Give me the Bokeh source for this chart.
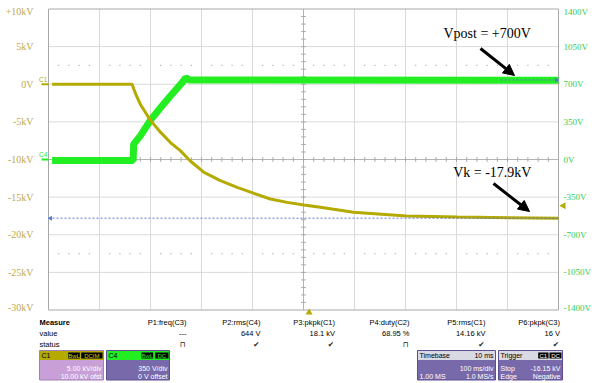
import math
from bokeh.plotting import figure
from bokeh.models import Range1d, ColumnDataSource, Label, Arrow, NormalHead
from bokeh.layouts import column
from bokeh.embed import file_html
from bokeh.resources import INLINE
from bokeh.core.properties import value

# ---------------- data ----------------
# C1 (kV) vs time (ms, 100 ms/div, 10 divisions)
c1_time_ms = [7, 164, 167, 171, 180, 200, 220, 239, 259, 278, 305, 337, 370,
              403, 435, 468, 501, 533, 598, 702, 802, 1000]
c1_kv = [0.0, 0.0, -0.6, -1.3, -2.65, -4.8, -6.4, -7.75, -8.85, -10.2, -11.7,
         -12.8, -13.7, -14.5, -15.25, -15.7, -16.05, -16.35, -17.0, -17.5,
         -17.65, -17.8]
# C4 (V) vs time (ms)
c4_time_ms = [7, 166, 167, 180, 200, 220, 239, 262, 269, 276, 1000]
c4_volts = [-10, -10, 143, 220, 366, 483, 591, 715, 761, 740, 738]

left_tick_kv = [10, 5, 0, -5, -10, -15, -20, -25, -30]
left_tick_labels = ["+10kV", "5kV", "0V", "-5kV", "-10kV", "-15kV", "-20kV", "-25kV", "-30kV"]
right_tick_v = [1400, 1050, 700, 350, 0, -350, -700, -1050, -1400]
right_tick_labels = ["1400V", "1050V", "700V", "350V", "0V", "-350V", "-700V", "-1050V", "-1400V"]

cursor_kv = -17.8
cursor_volts = 740
trigger_level_kv = -16.15
trigger_time_ms = 511

measure_names = ["P1:freq(C3)", "P2:rms(C4)", "P3:pkpk(C1)", "P4:duty(C2)", "P5:rms(C1)", "P6:pkpk(C3)"]
measure_values = ["---", "644 V", "18.1 kV", "68.95 %", "14.16 kV", "16 V"]
measure_status = ["\u2293", "\u2714", "\u2714", "\u2293", "\u2714", "\u2714"]

# ---------------- layout ----------------
W, H_TOP, H_BOT = 592, 316, 67
OX, OY = 0, 0
SX0, SX1 = 48, 558
SY_TOP, SY_BOT = 8.5, 309.5
T0, T1 = 0, 1000
KV_TOP, KV_BOT = 10, -30
px_ms = (SX1 - SX0) / (T1 - T0)
px_kv = (SY_BOT - SY_TOP) / (KV_TOP - KV_BOT)
x_start = T0 - (SX0 - OX) / px_ms
x_end = T0 + (OX + W - SX0) / px_ms
y_end = KV_TOP + (SY_TOP - OY) / px_kv
y_start = KV_TOP - (OY + H_TOP - SY_TOP) / px_kv
V_ZERO_KV, V_PER_KV = -10, 70


def kv_to_v(k):
    return (k - V_ZERO_KV) * V_PER_KV


def sx(px):
    return T0 + (px - SX0) / px_ms


def sy(py):
    return KV_TOP - (py - SY_TOP) / px_kv


YEL = "#b4aa00"
GRN = "#22ee22"
SERIF = value("Liberation Serif")
SANS = value("Liberation Sans")

p = figure(width=W, height=H_TOP, x_range=Range1d(x_start, x_end),
           y_range=Range1d(y_start, y_end), output_backend="svg",
           toolbar_location=None, min_border=0, x_axis_location=None,
           y_axis_location=None)
p.extra_y_ranges = {"volts": Range1d(kv_to_v(y_start), kv_to_v(y_end))}
p.grid.visible = False
p.outline_line_color = None

# grid
gt = [T0 + i * 100 for i in range(1, 10) if i != 5]
p.segment(x0=gt, y0=KV_BOT, x1=gt, y1=KV_TOP, line_color="#dadada", line_width=1)
gk = [5, 0, -5, -15, -20, -25]
p.segment(x0=T0, y0=gk, x1=T1, y1=gk, line_color="#dadada", line_width=1)
# dotted rows
dot_t = [T0 + 20 * i for i in range(1, 50) if i % 5 != 0]
for k in (2.5, -22.5):
    p.scatter(x=dot_t, y=[k] * len(dot_t), marker="square", size=1.2,
              fill_color="#b8b8b8", line_color=None)
# centre lines with ticks
p.segment(x0=500, y0=KV_BOT, x1=500, y1=KV_TOP, line_color="#b4b4b4", line_width=1)
p.segment(x0=T0, y0=-10, x1=T1, y1=-10, line_color="#b4b4b4", line_width=1)
tick_t = [T0 + 20 * i for i in range(1, 50)]
p.segment(x0=tick_t, y0=-10 - 2.3 / px_kv, x1=tick_t, y1=-10 + 2.3 / px_kv,
          line_color="#a8a8a8", line_width=1)
tick_k = [KV_BOT + i for i in range(1, 40)]
p.segment(x0=500 - 2.3 / px_ms, y0=tick_k, x1=500 + 2.3 / px_ms, y1=tick_k,
          line_color="#a8a8a8", line_width=1)
# border
p.line(x=[T0, T1, T1, T0, T0], y=[KV_TOP, KV_TOP, KV_BOT, KV_BOT, KV_TOP],
       line_color="#a8a8a8", line_width=1)

# tick labels
n = len(left_tick_kv)
left_src = ColumnDataSource(dict(x=[sx(33)] * n, y=left_tick_kv, t=left_tick_labels,
                                 off=[2.5 if v == max(left_tick_kv) else (-2.5 if v == min(left_tick_kv) else 0) for v in left_tick_kv]))
p.text(x="x", y="y", text="t", y_offset="off", source=left_src, text_align="right",
       text_baseline="middle", text_font=SERIF, text_font_size=value("10px"),
       text_color="#bfa94c")
m = len(right_tick_v)
right_src = ColumnDataSource(dict(x=[sx(563)] * m, y=right_tick_v, t=right_tick_labels,
                                  off=[2.5 if v == max(right_tick_v) else (-2.5 if v == min(right_tick_v) else 0) for v in right_tick_v]))
p.text(x="x", y="y", text="t", y_offset="off", source=right_src, y_range_name="volts",
       text_align="left", text_baseline="middle", text_font=SERIF,
       text_font_size=value("9px"), text_color="#33cc55")

# channel markers
p.segment(x0=sx(41), y0=0, x1=T0, y1=0, line_color=YEL, line_width=2)
p.text(x=[sx(38.5)], y=[sy(79)], text=["C1"], text_font=SANS, text_font_size=value("6.5px"),
       text_color=YEL, text_baseline="middle", text_align="left")
p.segment(x0=sx(41), y0=0, x1=T0, y1=0, y_range_name="volts", line_color=GRN, line_width=2)
p.text(x=[sx(38.5)], y=[kv_to_v(sy(154))], y_range_name="volts", text=["C4"], text_font=SANS,
       text_font_size=value("6.5px"), text_color=GRN, text_baseline="middle", text_align="left")

# traces
p.line(c4_time_ms, c4_volts, y_range_name="volts", line_color=GRN, line_width=7)
p.line(c1_time_ms, c1_kv, line_color=YEL, line_width=3)

# cursors
p.line([T0, T1], [cursor_kv, cursor_kv], line_color="#5a78d8", line_dash="2 2", line_width=1)
p.scatter([T0 + 4], [cursor_kv], marker="triangle", angle=math.pi / 2, size=5,
          fill_color="#5a78d8", line_color=None)
p.line([sx(500), T1], [cursor_volts, cursor_volts], y_range_name="volts",
       line_color="#5a78d8", line_dash="2 2", line_width=1)
p.scatter([T1 - 4], [cursor_volts], y_range_name="volts", marker="triangle",
          angle=-math.pi / 2, size=5, fill_color="#5a78d8", line_color=None)

# trigger markers
p.scatter([sx(563)], [trigger_level_kv], marker="triangle", angle=math.pi / 2, size=7,
          fill_color=YEL, line_color=None)
p.scatter([trigger_time_ms], [sy(312)], marker="triangle", size=7,
          fill_color=YEL, line_color=None)

# annotations
p.add_layout(Label(x=sx(443), y=sy(33.3), text="Vpost = +700V", text_font="Liberation Serif",
                   text_font_size="14px", text_baseline="middle", text_color="black"))
p.add_layout(Arrow(end=NormalHead(size=11, fill_color="black", line_color="black"),
                   x_start=sx(480), y_start=sy(48), x_end=sx(514), y_end=sy(75),
                   line_width=3, line_color="black"))
p.add_layout(Label(x=sx(452.7), y=sy(171.7), text="Vk = -17.9kV", text_font="Liberation Serif",
                   text_font_size="14px", text_baseline="middle", text_color="black"))
p.add_layout(Arrow(end=NormalHead(size=11, fill_color="black", line_color="black"),
                   x_start=sx(493), y_start=sy(183), x_end=sx(529), y_end=sy(211),
                   line_width=3, line_color="black"))

# ---------------- measurement / status panel ----------------
y_top_px = OY + H_TOP
p2 = figure(width=W, height=H_BOT, x_range=Range1d(OX, OX + W),
            y_range=Range1d(y_top_px + H_BOT, y_top_px), output_backend="svg",
            toolbar_location=None, min_border=0, x_axis_location=None,
            y_axis_location=None)
p2.grid.visible = False
p2.outline_line_color = None


def txt(x, y, s, align="left", color="black", size="7.5px", font="Liberation Sans", style="normal"):
    p2.text(x=[x], y=[y], text=[s], text_align=align, text_baseline="middle",
            text_color=color, text_font=value(font), text_font_size=value(size),
            text_font_style=style)


txt(39, 322, "Measure", style="bold", size="7.5px")
txt(39, 333, "value")
txt(39, 343.5, "status")
col_x = [186, 260, 334.5, 409, 485, 559.5]
p2.text(x=col_x, y=[322] * 6, text=measure_names, text_align="right", text_baseline="middle",
        text_font=SANS, text_font_size=value("7.5px"), text_color="black")
p2.text(x=col_x, y=[333] * 6, text=measure_values, text_align="right", text_baseline="middle",
        text_font=SANS, text_font_size=value("7.5px"), text_color="black")
p2.text(x=[c - 1 for c in col_x], y=[343.5] * 6, text=measure_status, text_align="right",
        text_baseline="middle", text_font=value("DejaVu Sans"), text_font_size=value("7.5px"),
        text_color="#222222")

BOX_T, HEAD_B, BOX_B = 350, 359.5, 379.5
PURPLE = "#7869aa"


def box(x0, x1, head_col, body_col, edge):
    p2.quad(left=[x0], right=[x1], top=[BOX_T], bottom=[BOX_B], fill_color=body_col,
            line_color=edge, line_width=1)
    p2.quad(left=[x0 + 0.5], right=[x1 - 0.5], top=[BOX_T + 0.5], bottom=[HEAD_B],
            fill_color=head_col, line_color=None)


def badge(x0, x1, s, col):
    p2.quad(left=[x0], right=[x1], top=[BOX_T + 2], bottom=[HEAD_B - 1.5],
            fill_color="black", line_color=None)
    txt((x0 + x1) / 2, (BOX_T + HEAD_B) / 2 + 0.3, s, align="center", color=col, size="6px")


hy = (BOX_T + HEAD_B) / 2 + 0.3
r1, r2 = 368, 375.5

box(39, 103, YEL, "#c8a0d7", "#a47fb8")
txt(41, hy, "C1", size="7px")
badge(67.7, 79.3, "BwL", "#d8c800")
badge(80.7, 102, "DCIM", "#d8c800")
txt(101, r1, "5.00 kV/div", align="right", color="white", size="7px")
txt(101, r2, "10.00 kV ofst", align="right", color="white", size="7px")

box(106, 169, GRN, PURPLE, "#5e4f92")
txt(108, hy, "C4", size="7px")
badge(141, 152.7, "BwL", GRN)
badge(154.7, 168, "DC", GRN)
txt(167, r1, "350 V/div", align="right", color="white", size="7px")
txt(167, r2, "0 V offset", align="right", color="white", size="7px")

box(417, 495, "#d9d9e3", PURPLE, "#5e4f92")
txt(419, hy, "Timebase", size="7px")
txt(493, hy, "10 ms", align="right", size="7px")
txt(493, r1, "100 ms/div", align="right", color="white", size="7px")
txt(419, r2, "1.00 MS", color="white", size="7px")
txt(493, r2, "1.0 MS/s", align="right", color="white", size="7px")

box(498, 562, "#d9d9e3", PURPLE, "#5e4f92")
txt(500, hy, "Trigger", size="7px")
badge(537.7, 548, "C1", "white")
badge(549, 561, "DC", "white")
txt(500, r1, "Stop", color="white", size="7px")
txt(560, r1, "-16.15 kV", align="right", color="white", size="7px")
txt(500, r2, "Edge", color="white", size="7px")
txt(560, r2, "Negative", align="right", color="white", size="7px")

layout = column(p, p2, spacing=0)
open("out.html", "w").write(file_html(layout, INLINE))
